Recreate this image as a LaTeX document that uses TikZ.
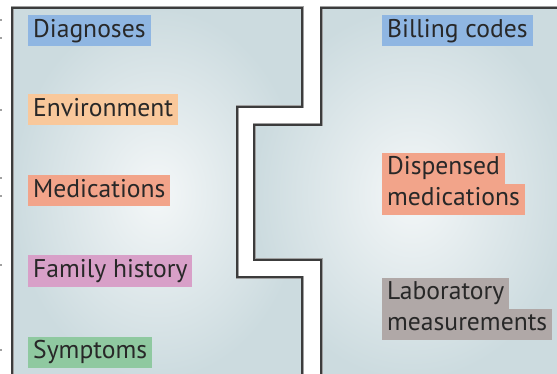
\documentclass[tikz,border=0pt]{standalone}
\usepackage{fontspec}
\setmainfont{PT Sans}
\begin{document}
\definecolor{edgefill}{RGB}{204,219,223}
\definecolor{midfill}{RGB}{244,247,248}
\definecolor{outline}{RGB}{60,60,60}
\definecolor{halo}{RGB}{160,160,160}
\definecolor{tagblue}{RGB}{143,182,226}
\definecolor{tagpeach}{RGB}{249,200,155}
\definecolor{tagsalmon}{RGB}{242,164,138}
\definecolor{tagpink}{RGB}{216,160,200}
\definecolor{taggreen}{RGB}{143,201,160}
\definecolor{taggray}{RGB}{176,168,167}
\definecolor{inkgray}{RGB}{40,40,40}
\begin{tikzpicture}[x=1pt,y=-1pt,
  panel/.style={inner color=midfill,outer color=edgefill},
  rim/.style={draw=outline,line width=1.6pt,line join=miter},
  rimhalo/.style={draw=halo,line width=3pt,line join=miter},
  tag/.style={anchor=west,inner xsep=5pt,inner ysep=0pt,minimum height=31pt,
    text height=18pt,text depth=5pt,text=inkgray,
    font=\fontsize{25.6}{30}\selectfont},
  dot/.style={fill=halo,minimum size=1.6pt,inner sep=0pt}]
\useasboundingbox (0,0) rectangle (557,374);
\fill[white] (0,0) rectangle (557,374);
% shaded panels
\shade[panel] (12,8) -- (302,8) -- (302,107) -- (237,107) -- (237,277)
  -- (302,277) -- (302,380) -- (12,380) -- cycle;
\shade[panel] (321,8) -- (570,8) -- (570,380) -- (321,380) -- (321,260)
  -- (254,260) -- (254,125) -- (321,125) -- cycle;
% panel outlines
\coordinate (lb) at (12,380);
\coordinate (rb) at (302,380);
\coordinate (sb) at (321,380);
\coordinate (se) at (570,8);
\foreach \s in {rimhalo,rim}{
  \draw[\s] (lb) -- (12,8) -- (302,8) -- (302,107) -- (237,107) -- (237,277)
    -- (302,277) -- (rb);
  \draw[\s] (sb) -- (321,260) -- (254,260) -- (254,125) -- (321,125)
    -- (321,8) -- (se);
}
% left column of tags
\node[tag,fill=tagblue]   (diag) at (28,31)  {Diagnoses};
\node[tag,fill=tagpeach]  (env)  at (28,110) {Environment};
\node[tag,fill=tagsalmon] (med)  at (28,191) {Medications};
\node[tag,fill=tagpink]   (fam)  at (28,271) {Family history};
\node[tag,fill=taggreen]  (sym)  at (28,352) {Symptoms};
% right column of tags
\node[tag,fill=tagblue]   (bill) at (382,31)  {Billing codes};
\node[tag,fill=tagsalmon] (disp2) at (382,199.5) {medications};
\node[tag,fill=tagsalmon] (disp1) at (382,168.5) {Dispensed};
\node[tag,fill=taggray]   (lab2) at (382,324) {measurements};
\node[tag,fill=taggray]   (lab1) at (382,293) {Laboratory};
% small marks at the left margin
\foreach \yy [count=\i] in {20,38,110,178,196,265,350}
  \node[dot] (m\i) at (1,\yy) {};
\end{tikzpicture}
\end{document}
